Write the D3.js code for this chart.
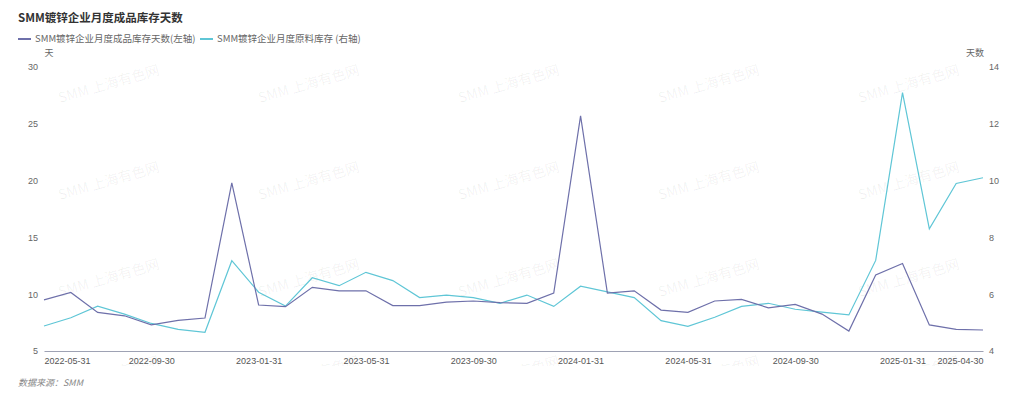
<!DOCTYPE html>
<html>
<head>
<meta charset="utf-8">
<script src="https://cdn.jsdelivr.net/npm/d3@7"></script>
<style>
  body { margin: 0; background: #fff; }
  svg { display: block; font-family: "Noto Sans CJK SC", "Noto Sans", sans-serif; }
</style>
</head>
<body>
<div id="chart"></div>
<script>
// month-end dates on the x axis
const months = [
  '2022-05-31', '2022-06-30', '2022-07-31', '2022-08-31', '2022-09-30', '2022-10-31',
  '2022-11-30', '2022-12-31', '2023-01-31', '2023-02-28', '2023-03-31', '2023-04-30',
  '2023-05-31', '2023-06-30', '2023-07-31', '2023-08-31', '2023-09-30', '2023-10-31',
  '2023-11-30', '2023-12-31', '2024-01-31', '2024-02-29', '2024-03-31', '2024-04-30',
  '2024-05-31', '2024-06-30', '2024-07-31', '2024-08-31', '2024-09-30', '2024-10-31',
  '2024-11-30', '2024-12-31', '2025-01-31', '2025-02-28', '2025-03-31', '2025-04-30'
];

// finished goods inventory days (left axis)
const finishedDays = [
  9.5, 10.15, 8.4, 8.1, 7.3, 7.7, 7.9, 19.8, 9.05, 8.9, 10.6, 10.3,
  10.3, 9.0, 9.0, 9.3, 9.4, 9.25, 9.2, 10.1, 25.7, 10.1, 10.3, 8.6,
  8.4, 9.4, 9.55, 8.8, 9.1, 8.25, 6.75, 11.7, 12.7, 7.3, 6.9, 6.85
];

// raw material inventory (right axis)
const rawDays = [
  4.88, 5.17, 5.58, 5.3, 4.97, 4.76, 4.66, 7.18, 6.07, 5.58, 6.58, 6.3,
  6.77, 6.48, 5.88, 5.97, 5.88, 5.68, 5.97, 5.57, 6.28, 6.08, 5.88, 5.07,
  4.87, 5.19, 5.57, 5.68, 5.47, 5.37, 5.27, 7.19, 13.1, 8.3, 9.9, 10.1
];

const leftTicks = [5, 10, 15, 20, 25, 30];
const rightTicks = [4, 6, 8, 10, 12, 14];
const xLabels = ['2022-05-31', '2022-09-30', '2023-01-31', '2023-05-31', '2023-09-30',
  '2024-01-31', '2024-05-31', '2024-09-30', '2025-01-31', '2025-04-30'];

const title = 'SMM镀锌企业月度成品库存天数';
const seriesNames = ['SMM镀锌企业月度成品库存天数(左轴)', 'SMM镀锌企业月度原料库存 (右轴)'];
const colors = ['#6e70aa', '#5fc6d6'];

const width = 1024, height = 399;
const margin = { top: 67, right: 41, bottom: 48, left: 44 };

const svg = d3.select('#chart')
  .append('svg')
  .attr('width', width)
  .attr('height', height);

// watermark, clipped just under the axis labels
svg.append('clipPath').attr('id', 'wm-clip')
  .append('rect').attr('x', 0).attr('y', 0).attr('width', width).attr('height', 366);

const wm = svg.append('g').attr('clip-path', 'url(#wm-clip)');
for (let r = 0; r < 4; r++) {
  for (let c = 0; c < 5; c++) {
    wm.append('text')
      .attr('transform', `translate(${60 + c * 200},${103 + r * 97}) rotate(-16)`)
      .attr('font-size', 14)
      .attr('fill', '#000')
      .attr('fill-opacity', 0.06)
      .text('SMM 上海有色网');
  }
}

const x = d3.scalePoint()
  .domain(months)
  .range([margin.left, width - margin.right]);

const yLeft = d3.scaleLinear()
  .domain([5, 30])
  .range([height - margin.bottom, margin.top]);

const yRight = d3.scaleLinear()
  .domain([4, 14])
  .range([height - margin.bottom, margin.top]);

// title
svg.append('text')
  .attr('x', 18)
  .attr('y', 22)
  .attr('font-size', 11.5)
  .attr('font-weight', 'bold')
  .attr('fill', '#333')
  .text(title);

// legend
const legendX = [18, 200];
seriesNames.forEach((name, i) => {
  const g = svg.append('g').attr('transform', `translate(${legendX[i]},39)`);
  g.append('line')
    .attr('x1', 0).attr('x2', 13)
    .attr('stroke', colors[i])
    .attr('stroke-width', 2);
  g.append('text')
    .attr('x', 17)
    .attr('dy', '0.35em')
    .attr('font-size', 9.5)
    .attr('fill', '#666')
    .text(name);
});

// axis units
svg.append('text')
  .attr('x', 49).attr('y', 53).attr('dy', '0.35em')
  .attr('text-anchor', 'middle')
  .attr('font-size', 9)
  .attr('fill', '#666')
  .text('天');

svg.append('text')
  .attr('x', 984).attr('y', 53).attr('dy', '0.35em')
  .attr('text-anchor', 'end')
  .attr('font-size', 9)
  .attr('fill', '#666')
  .text('天数');

// left axis
const gl = svg.append('g')
  .attr('transform', `translate(${margin.left},0)`)
  .call(d3.axisLeft(yLeft).tickValues(leftTicks).tickSize(0).tickPadding(6));
gl.select('.domain').remove();
gl.selectAll('text').attr('fill', '#666').attr('font-size', 9);

// right axis
const gr = svg.append('g')
  .attr('transform', `translate(${width - margin.right},0)`)
  .call(d3.axisRight(yRight).tickValues(rightTicks).tickSize(0).tickPadding(6));
gr.select('.domain').remove();
gr.selectAll('text').attr('fill', '#666').attr('font-size', 9);

// bottom axis
const gb = svg.append('g')
  .attr('transform', `translate(0,${height - margin.bottom})`)
  .call(d3.axisBottom(x).tickValues(xLabels).tickSize(0).tickPadding(7));
gb.select('.domain')
  .attr('stroke', '#9ea2b4')
  .attr('stroke-width', 1.2);
gb.selectAll('text')
  .attr('fill', '#555')
  .attr('font-size', 9)
  .attr('text-anchor', d => d === months[0] ? 'start' : d === months[months.length - 1] ? 'end' : 'middle');

// lines
const lineLeft = d3.line()
  .x((d, i) => x(months[i]))
  .y(d => yLeft(d));

const lineRight = d3.line()
  .x((d, i) => x(months[i]))
  .y(d => yRight(d));

svg.append('path')
  .datum(rawDays)
  .attr('fill', 'none')
  .attr('stroke', colors[1])
  .attr('stroke-width', 1.2)
  .attr('d', lineRight);

svg.append('path')
  .datum(finishedDays)
  .attr('fill', 'none')
  .attr('stroke', colors[0])
  .attr('stroke-width', 1.2)
  .attr('d', lineLeft);

// source note
svg.append('text')
  .attr('x', 18)
  .attr('y', 386)
  .attr('font-size', 9)
  .attr('font-style', 'italic')
  .attr('fill', '#888')
  .text('数据来源：SMM');
</script>
</body>
</html>
